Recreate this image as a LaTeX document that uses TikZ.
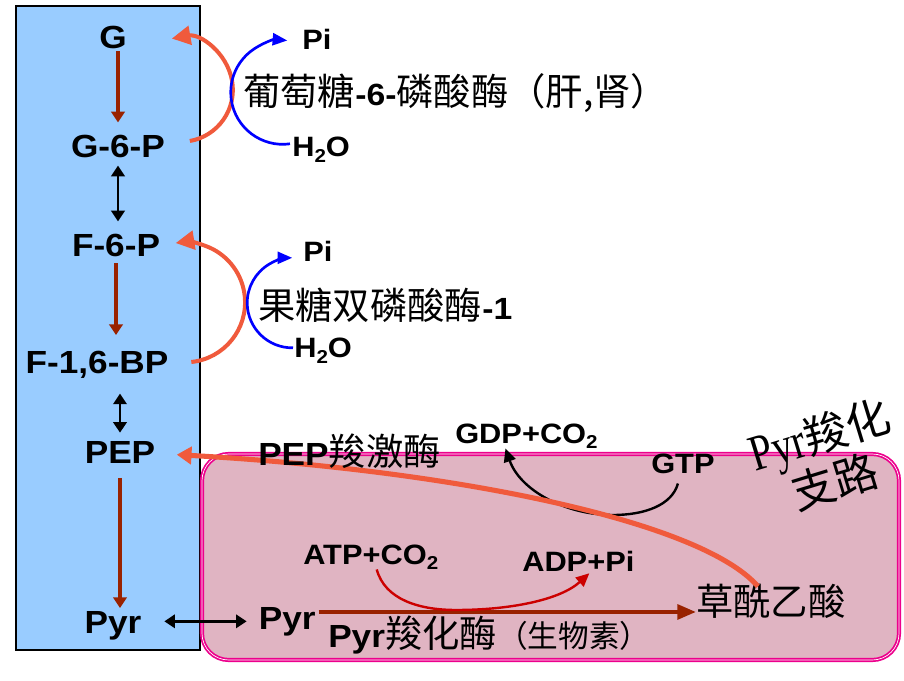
\documentclass[tikz,border=0pt]{standalone}
\usepackage{fontspec}
\setmainfont{Liberation Sans}[FakeStretch=1.1]
\newfontfamily\cjk{Noto Sans CJK SC}
\newfontfamily\pyrserif{Liberation Serif}
\usepackage{graphicx}
\usepackage{xcolor}
\usepackage{tikz}
\usetikzlibrary{arrows.meta, calc}

\definecolor{cellblue}{RGB}{153,204,255}
\definecolor{branchpink}{RGB}{224,180,194}
\definecolor{bypassorange}{RGB}{240,90,60}
\definecolor{steprust}{RGB}{153,34,0}
\definecolor{atpred}{RGB}{204,0,0}

% Latin bold inside Chinese text, and a lowered index
\newcommand{\latb}[2]{{\rmfamily\bfseries\fontsize{#1}{#1}\selectfont #2}}
\newcommand{\lowsub}[1]{\raisebox{-0.35ex}{\fontsize{14}{14}\selectfont #1}}

\begin{document}
\begin{tikzpicture}[x=0.75pt, y=-0.75pt,
    met/.style={font=\bfseries\fontsize{24}{26}\selectfont, inner sep=2pt},
    chem/.style={font=\bfseries\fontsize{21}{23}\selectfont, inner sep=0pt, anchor=base west},
    enz/.style={font=\cjk\fontsize{28}{30}\selectfont, inner sep=0pt, anchor=base west},
    oneway/.style={draw=steprust, line width=2.4pt, -{Triangle[length=8pt,width=10pt]}},
    twoway/.style={draw=black, line width=2.2pt, {Triangle[length=8pt,width=10pt]}-{Triangle[length=8pt,width=10pt]}},
    bypass/.style={draw=bypassorange, line width=3pt, -{Triangle[length=14pt,width=14pt]}},
    water/.style={draw=blue, line width=2pt, -{Triangle[length=11pt,width=9pt]}},
    cofactor/.style={line width=1.8pt, -{Triangle[length=10pt,width=9pt]}}]

    \useasboundingbox (0,0) rectangle (904,681);

    % =================================================================
    % NEN: KHOI TE BAO VA NHANH CARBOXYL HOA
    % =================================================================
    \draw[fill=cellblue, line width=0.8pt] (16,6) rectangle (200,650);
    \draw[magenta, fill=branchpink, line width=1.3pt, double=white, double distance=0.5pt,
          rounded corners=20pt] (202,454) rectangle (899,660);

    % =================================================================
    % COT TRAI: CHUOI CHAT
    % =================================================================
    \node[met] (G)   at (113,37)  {G};
    \node[met] (G6P) at (118,146) {G-6-P};
    \node[met] (F6P) at (116,245) {F-6-P};
    \node[met] (FBP) at (97,365)  {F-1,6-BP};
    \node[met] (PEP) at (120,452) {PEP};
    \node[met, anchor=base] (Pyr) at (113,633) {Pyr};

    \draw[oneway, shorten >=7pt] (G.south -| G6P.north) -- (G6P.north);
    \draw[twoway, shorten <=4pt, shorten >=7pt] (G6P.south) -- (G6P.south |- F6P.north);
    \draw[oneway, shorten <=3pt, shorten >=10pt] (F6P.south) -- (F6P.south |- FBP.north);
    \draw[twoway, shorten <=9pt, shorten >=4pt] (PEP.north |- FBP.south) -- (PEP.north);
    \draw[oneway, shorten <=9pt] (PEP.south) -- (PEP.south |- Pyr.north);

    % =================================================================
    % HAI ENZYM THUY PHAN
    % =================================================================
    \node[chem] (Pia)  at (302,50)  {Pi};
    \node[chem] (H2Oa) at (292,157) {H\lowsub{2}O};
    \node[enz]  (g6pase) at (243,106) {葡萄糖\latb{23}{-6-}磷酸酶（肝,肾）};

    \draw[bypass] ([shift={(22,-5)}]G6P.east) arc[start angle=80, end angle=-100, radius=52];
    \draw[water] ([shift={(-2,-6)}]H2Oa.west) arc[start angle=82, end angle=275, radius=52];

    \node[chem] (Pib)  at (303,262) {Pi};
    \node[chem] (H2Ob) at (294,358) {H\lowsub{2}O};
    \node[enz]  (fbpase) at (258,320) {果糖双磷酸酶\latb{23}{-1}};

    \draw[bypass] ([shift={(20,-3)}]FBP.east) arc[start angle=84, end angle=-99, radius=60];
    \draw[water] ([shift={(-1,-3)}]H2Ob.west) arc[start angle=89, end angle=270, radius=45];

    % =================================================================
    % NHANH Pyr -> OAA -> PEP
    % =================================================================
    \node[met, anchor=base west] (PyrB) at (256,629) {Pyr};
    \node[enz] (OAA) at (696,615) {草酰乙酸};
    \node[enz] (pcase) at (328,647) {\latb{24}{Pyr}羧化酶{\fontsize{23}{24}\selectfont（生物素）}};

    \node[chem] (ATP) at (303,564) {ATP+CO\lowsub{2}};
    \node[chem] (ADP) at (522,571) {ADP+Pi};
    \node[chem] (GDP) at (455,443) {GDP+CO\lowsub{2}};
    \node[chem] (GTP) at (651,473) {GTP};

    \node[font=\cjk\fontsize{33}{37}\selectfont, rotate=17, align=center, inner sep=0pt] (branch) at (827,458)
        {{\pyrserif\fontsize{38}{38}\selectfont\scalebox{0.8}[1]{Pyr}}羧化\\支路};

    \draw[twoway, shorten <=15pt, shorten >=7pt] (PyrB.west -| Pyr.east) -- (PyrB.west);
    \draw[draw=steprust, line width=3pt, -{Triangle[length=14pt,width=11pt]}]
        ([yshift=7pt]PyrB.east) -- ([yshift=7pt]PyrB.east -| OAA.west);

    \draw[cofactor, draw=atpred] ([shift={(6,0)}]ATP.south) .. controls (385,600) and (420,610) .. (456,610)
        .. controls (510,610) and (560,600) .. ([shift={(11,2)}]ADP.south);
    \draw[cofactor, draw=black] ([shift={(-5,10)}]GTP.south) .. controls (672,505) and (645,515) .. (613,515)
        .. controls (565,515) and (520,490) .. ([shift={(-21,0)}]GDP.south);

    % Duong vong qua PEP carboxykinase (nhan ve sau de nam tren)
    \draw[bypass, line width=3.8pt, -{Triangle[length=11pt,width=13pt]}]
        ($(OAA.north)+(-13,3)$) .. controls (700,520) and (450,470) .. ([xshift=14pt,yshift=-2pt]PEP.east);
    \node[enz] (pepck) at (258,465) {\latb{24}{PEP}羧激酶};

\end{tikzpicture}
\end{document}
